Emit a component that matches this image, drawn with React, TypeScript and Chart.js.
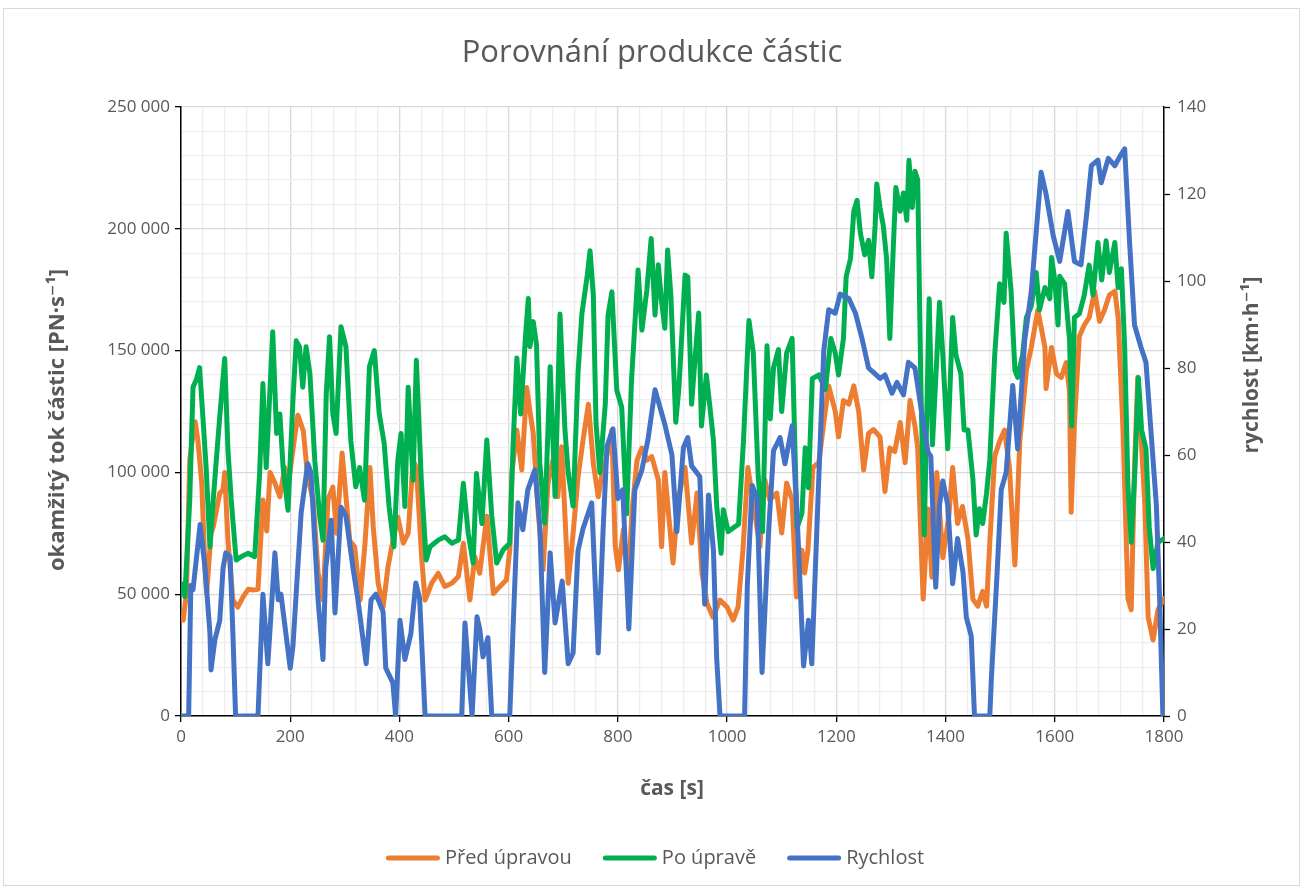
import { useEffect, useRef } from 'react';
import { Chart, registerables } from 'chart.js';

Chart.register(...registerables);

const TITLE = 'Porovnání produkce částic';
const X_TITLE = 'čas [s]';
const Y_TITLE = 'okamžitý tok částic [PN·s⁻¹]';
const Y1_TITLE = 'rychlost [km·h⁻¹]';

const SERIES_LABELS = ['Před úpravou', 'Po úpravě', 'Rychlost'];
const SERIES_COLORS = ['#ED7D31', '#00B050', '#4472C4'];

// Před úpravou (PN/s)
const tOrange = [0,4,10,16,20,26,31,38,44,47,55,59,71,77,80,86,95,104,114,123,132,141,150,157,163,172,181,190,196,209,214,224,232,242,251,260,269,278,285,295,300,309,318,328,337,346,352,361,370,379,388,397,407,416,425,431,441,447,459,471,483,496,508,517,529,538,547,560,572,584,596,602,606,615,624,633,639,645,654,663,672,681,690,697,709,718,727,736,746,755,764,773,777,789,795,801,810,819,826,835,844,853,862,874,880,886,898,901,910,923,935,945,954,963,974,987,1000,1011,1020,1029,1038,1047,1060,1069,1078,1091,1100,1109,1119,1127,1137,1142,1148,1157,1168,1177,1186,1198,1204,1213,1223,1232,1241,1250,1259,1268,1280,1289,1298,1307,1317,1326,1335,1344,1349,1359,1368,1375,1384,1395,1406,1413,1422,1431,1441,1450,1459,1468,1475,1481,1490,1499,1508,1517,1527,1536,1548,1557,1569,1582,1584,1594,1603,1612,1621,1627,1630,1636,1645,1654,1663,1673,1682,1691,1700,1710,1716,1725,1734,1740,1746,1752,1758,1765,1771,1780,1789,1800];
const vOrange = [40000,39400,50300,105000,112000,120800,113000,95600,60000,50500,75000,77600,91500,92800,100000,72000,47600,44700,49000,52000,51700,52000,88700,76000,100000,95600,90000,102000,94000,116000,123500,117000,98000,88700,58700,47600,88700,94000,75000,108000,95600,72000,69400,47600,71000,102000,77600,54600,44700,61200,72000,81700,71000,75000,105000,102000,64000,47600,54500,58600,53200,54500,57300,70900,47600,65400,58600,82000,50300,53200,55900,68200,100000,117300,101000,134900,125000,116000,84000,60000,95600,105000,90000,110500,54500,75000,98000,113000,128000,103700,90000,102000,103700,117300,70000,60000,76400,54500,84500,105000,110000,105000,106500,97000,69500,100000,70000,62800,88700,102000,71000,91500,58700,46400,40600,47600,44700,39400,44700,68100,102000,88700,69400,96900,88700,91500,75100,95600,88700,48900,68100,58700,68100,102000,104000,120500,135500,125000,114600,129500,128000,135500,125000,101000,116000,117600,114600,92200,110000,108600,120500,104000,129500,119000,110000,48000,85000,57000,100000,65000,82000,102000,79000,86000,72800,48000,45100,51200,45100,71300,106600,112800,117400,102000,62000,112800,142000,151300,166700,151300,134400,151300,140500,139000,145100,132800,83600,120500,155900,160500,163600,174400,162000,166700,172800,174400,163600,117400,48200,43600,102000,139000,114300,86600,40500,31200,43600,48200];

// Po úpravě (PN/s)
const tGreen = [0,7,16,22,28,34,40,46,53,59,65,71,80,86,92,101,110,123,135,144,150,156,168,175,181,187,196,205,211,217,223,229,236,245,254,260,266,272,278,284,293,302,311,320,327,336,345,354,363,372,381,390,397,403,410,416,425,431,440,449,456,471,483,496,508,517,526,535,541,551,560,569,578,590,602,608,615,622,631,636,639,645,651,657,666,676,685,694,703,709,718,727,734,744,749,755,760,767,777,782,789,798,807,816,825,837,844,853,861,868,874,880,886,891,897,906,912,923,928,935,941,948,953,962,968,975,981,989,993,1002,1011,1021,1030,1040,1048,1057,1065,1073,1079,1085,1094,1100,1109,1119,1128,1137,1143,1149,1156,1168,1180,1190,1198,1204,1213,1218,1226,1232,1238,1244,1252,1259,1265,1271,1274,1280,1286,1292,1298,1304,1309,1317,1323,1329,1333,1339,1344,1349,1355,1361,1370,1376,1389,1395,1404,1413,1419,1428,1434,1441,1450,1456,1462,1468,1475,1481,1490,1499,1507,1511,1520,1527,1532,1541,1548,1557,1566,1572,1582,1591,1594,1600,1606,1609,1618,1627,1631,1636,1645,1654,1663,1670,1679,1686,1694,1700,1710,1716,1722,1728,1734,1740,1747,1753,1759,1767,1773,1780,1789,1800];
const vGreen = [54400,49000,88600,135000,138000,143000,123000,102000,69500,88600,106000,123000,146800,109000,88600,64000,65400,66800,65400,99600,136500,102000,157700,116000,124000,102000,84500,129700,154000,151600,135000,151600,140600,105000,81800,72200,132400,155700,124000,116000,159800,151600,113000,94100,102000,88600,143400,150000,124000,112000,86000,69500,105000,116000,86000,135000,96800,146000,96800,64000,69500,72200,73600,70900,72200,95500,75000,62800,99500,79000,113300,82200,62800,68200,70900,110600,147000,124000,156400,171400,151600,161900,152400,103800,79200,143400,90100,165000,117700,99900,86200,140800,165000,181000,191000,172800,120000,99900,128300,164600,174100,133700,126800,83000,138000,183100,158400,174800,196000,164600,185200,170100,159200,191300,172800,120600,135500,181000,180300,128000,146000,165400,119000,140000,128000,113100,86200,66800,84700,75700,77200,78700,113100,162400,149000,98200,75700,152000,122000,143000,150400,125000,149000,155000,77200,83200,110100,93700,138500,140000,134000,155000,149000,140000,155000,180300,187800,207200,211700,198300,189300,195300,180300,201200,218400,208700,201200,187800,155000,190800,217000,207200,214700,203500,228100,208700,223600,220000,132800,74300,171300,111300,169800,148200,109700,163600,148200,140500,117400,117400,97400,74300,85100,79000,91300,105100,148200,177400,169800,198200,174400,142000,139000,148200,163600,168200,182100,166700,175900,171300,188200,179000,160500,180500,177400,154400,119000,163600,165100,172800,185100,172800,194400,179000,195100,182100,194400,175900,183600,151300,94300,71300,102000,139000,117400,109700,77400,60500,71300,72800];

// Rychlost (km/h)
const tBlue = [0,14,18,22,35,44,53,55,62,71,77,82,90,95,100,141,150,159,172,178,183,200,205,220,232,238,251,260,265,275,282,293,302,315,324,339,348,357,370,375,388,393,401,410,421,430,437,447,514,520,533,542,547,553,562,569,602,608,617,626,635,648,657,666,676,685,698,709,718,727,736,752,764,773,780,791,800,809,820,831,844,855,868,886,899,908,920,928,935,950,959,966,975,981,987,1032,1037,1046,1055,1064,1076,1085,1097,1106,1119,1128,1140,1149,1155,1168,1177,1186,1198,1207,1223,1235,1247,1259,1268,1280,1289,1302,1311,1323,1332,1344,1354,1359,1368,1373,1382,1389,1395,1404,1413,1422,1432,1438,1447,1453,1481,1484,1493,1502,1511,1523,1532,1545,1557,1575,1584,1597,1609,1624,1636,1648,1658,1667,1679,1685,1698,1710,1719,1728,1737,1746,1758,1767,1776,1786,1792,1798];
const vBlue = [0,0,30,29,44,34,19,10.6,17.5,22,34,37.5,36.6,19,0,0,28,12,37.5,26.7,28,11,16,46.7,58,56,26.7,13,34,45,23.7,48,46,34,26.7,12,26.7,28,24,11,7.6,0,22,13,19,30.6,27,0,0,21.4,0,22.8,20,13.6,18,0,0,20,49,42.8,52,56.6,44,10,37.5,21.4,31,12,14.5,38,43,49,14.5,43,62,66,50,52,20,52,56.6,63.5,75,67,60,42.4,61.7,64,57.5,55,25.7,50.8,38,13,0,0,30,53,50,10,42.4,61,64,58,66.7,46.6,11.5,22,12,55,84,93.4,92.6,97,96,92.6,86.8,80,79,77.6,78.4,74.2,76.7,73.8,81.3,80,71.7,67.5,60.6,59.7,29.6,48.5,54,48.5,30.4,40.8,33,22.7,18.4,0,0,8.9,29.6,52,56,76,61.4,86.4,97.6,125,120,110.5,104.5,116,104.5,103.7,115,126.5,127.8,122.6,128.2,126.5,128.6,130.4,108.8,89.9,84.7,81.3,65.7,48.5,27,0];

const X_MIN = 0, X_MAX = 1800, X_MAJOR = 200, X_MINOR = 40;
const Y_MIN = 0, Y_MAX = 250000, Y_MAJOR = 50000, Y_MINOR = 10000;
const Y1_MIN = 0, Y1_MAX = 140, Y1_STEP = 20;

const FONT = '"Open Sans", "DejaVu Sans", sans-serif';
const TEXT = '#595959';

const fmtThousands = (v: number) => String(v).replace(/\B(?=(\d{3})+(?!\d))/g, ' ');
const pts = (t: number[], v: number[]) => t.map((x, i) => ({ x, y: v[i] }));

const textPlugin = {
  id: 'customText',
  beforeDraw(chart: any) {
    const ctx = chart.ctx as CanvasRenderingContext2D;
    ctx.save();
    ctx.fillStyle = '#ffffff';
    ctx.fillRect(0, 0, chart.width, chart.height);
    ctx.strokeStyle = '#d9d9d9';
    ctx.lineWidth = 1;
    ctx.strokeRect(3.5, 8.5, 1296, 877);
    ctx.restore();
  },
  afterDraw(chart: any) {
    const ctx = chart.ctx as CanvasRenderingContext2D;
    ctx.save();
    ctx.fillStyle = TEXT;
    ctx.textAlign = 'center';
    ctx.textBaseline = 'middle';
    ctx.font = `400 31px ${FONT}`;
    ctx.fillText(TITLE, 652, 53);

    ctx.font = `bold 21px ${FONT}`;
    ctx.fillText(X_TITLE, 672, 789);

    ctx.font = `bold 22px ${FONT}`;
    ctx.save();
    ctx.translate(58, 420);
    ctx.rotate(-Math.PI / 2);
    ctx.fillText(Y_TITLE, 0, 0);
    ctx.restore();

    ctx.font = `bold 21px ${FONT}`;
    ctx.save();
    ctx.translate(1252, 365);
    ctx.rotate(-Math.PI / 2);
    ctx.fillText(Y1_TITLE, 0, 0);
    ctx.restore();

    // legend
    ctx.font = `20px ${FONT}`;
    const lineLen = 54, gap = 5, itemGap = 31;
    const widths = SERIES_LABELS.map((l) => ctx.measureText(l).width);
    const total = widths.reduce((a, b) => a + b, 0) + SERIES_LABELS.length * (lineLen + gap) + itemGap * (SERIES_LABELS.length - 1);
    let x = 655 - total / 2;
    const ly = 858;
    ctx.textAlign = 'left';
    SERIES_LABELS.forEach((l, i) => {
      ctx.strokeStyle = SERIES_COLORS[i];
      ctx.lineWidth = 5;
      ctx.lineCap = 'round';
      ctx.beginPath();
      ctx.moveTo(x + 2.5, ly);
      ctx.lineTo(x + lineLen - 2.5, ly);
      ctx.stroke();
      x += lineLen + gap;
      ctx.fillStyle = TEXT;
      ctx.fillText(l, x, ly);
      x += widths[i] + itemGap;
    });
    ctx.restore();
  },
};

export default function App() {
  const ref = useRef<HTMLCanvasElement>(null);
  useEffect(() => {
    const isMajorX = (c: any) => c.tick && Math.abs(c.tick.value % X_MAJOR) < 1e-6;
    const isMajorY = (c: any) => c.tick && Math.abs(c.tick.value % Y_MAJOR) < 1e-6;
    const tickFont = { family: FONT, size: 17 };
    const chart = new Chart(ref.current as HTMLCanvasElement, {
      type: 'line',
      data: {
        datasets: [
          { label: SERIES_LABELS[0], data: pts(tOrange, vOrange), borderColor: SERIES_COLORS[0], backgroundColor: SERIES_COLORS[0], borderWidth: 5, yAxisID: 'y', order: 2, pointRadius: 0 },
          { label: SERIES_LABELS[1], data: pts(tGreen, vGreen), borderColor: SERIES_COLORS[1], backgroundColor: SERIES_COLORS[1], borderWidth: 5, yAxisID: 'y', order: 1, pointRadius: 0 },
          { label: SERIES_LABELS[2], data: pts(tBlue, vBlue), borderColor: SERIES_COLORS[2], backgroundColor: SERIES_COLORS[2], borderWidth: 5, yAxisID: 'y1', order: 0, pointRadius: 0 },
        ],
      } as any,
      options: {
        responsive: false,
        animation: false,
        devicePixelRatio: 1,
        layout: { padding: { top: 107, bottom: 130, left: 0, right: 0 } },
        plugins: { legend: { display: false }, title: { display: false }, tooltip: { enabled: false } },
        elements: { point: { radius: 0 }, line: { tension: 0, borderJoinStyle: 'round', borderCapStyle: 'round' } },
        scales: {
          x: {
            type: 'linear', min: X_MIN, max: X_MAX,
            afterFit: (s: any) => { s.height = 44; },
            ticks: { stepSize: X_MINOR, autoSkip: false, maxRotation: 0, color: TEXT, font: tickFont, padding: 5,
              callback: (v: any) => (Math.abs(Number(v) % X_MAJOR) < 1e-6 ? String(v) : '') },
            grid: { color: (c: any) => (isMajorX(c) ? '#d9d9d9' : '#eeeeee'), lineWidth: 1.3, tickLength: 6,
              tickColor: (c: any) => (isMajorX(c) ? '#000000' : 'rgba(0,0,0,0)'), tickWidth: 1.3 },
            border: { color: '#000000', width: 1.5 },
          },
          y: {
            type: 'linear', position: 'left', min: Y_MIN, max: Y_MAX,
            afterFit: (s: any) => { s.width = 181; },
            ticks: { stepSize: Y_MINOR, autoSkip: false, color: TEXT, font: tickFont, padding: 5,
              callback: (v: any) => (Math.abs(Number(v) % Y_MAJOR) < 1e-6 ? fmtThousands(Number(v)) : '') },
            grid: { color: (c: any) => (isMajorY(c) ? '#d9d9d9' : '#eeeeee'), lineWidth: 1.3, tickLength: 6,
              tickColor: (c: any) => (isMajorY(c) ? '#000000' : 'rgba(0,0,0,0)'), tickWidth: 1.3 },
            border: { color: '#000000', width: 1.5 },
          },
          y1: {
            type: 'linear', position: 'right', min: Y1_MIN, max: Y1_MAX,
            afterFit: (s: any) => { s.width = 140; },
            ticks: { stepSize: Y1_STEP, color: TEXT, font: tickFont, padding: 7 },
            grid: { drawOnChartArea: false, tickLength: 6, tickColor: '#000000', tickWidth: 1.3 },
            border: { color: '#000000', width: 1.5 },
          },
        },
      } as any,
      plugins: [textPlugin],
    });
    return () => chart.destroy();
  }, []);
  return (
    <div style={{ position: 'absolute', left: 0, top: 0, width: 1304, height: 890 }}>
      <canvas ref={ref} width={1304} height={890} style={{ width: 1304, height: 890, display: 'block' }} />
    </div>
  );
}
